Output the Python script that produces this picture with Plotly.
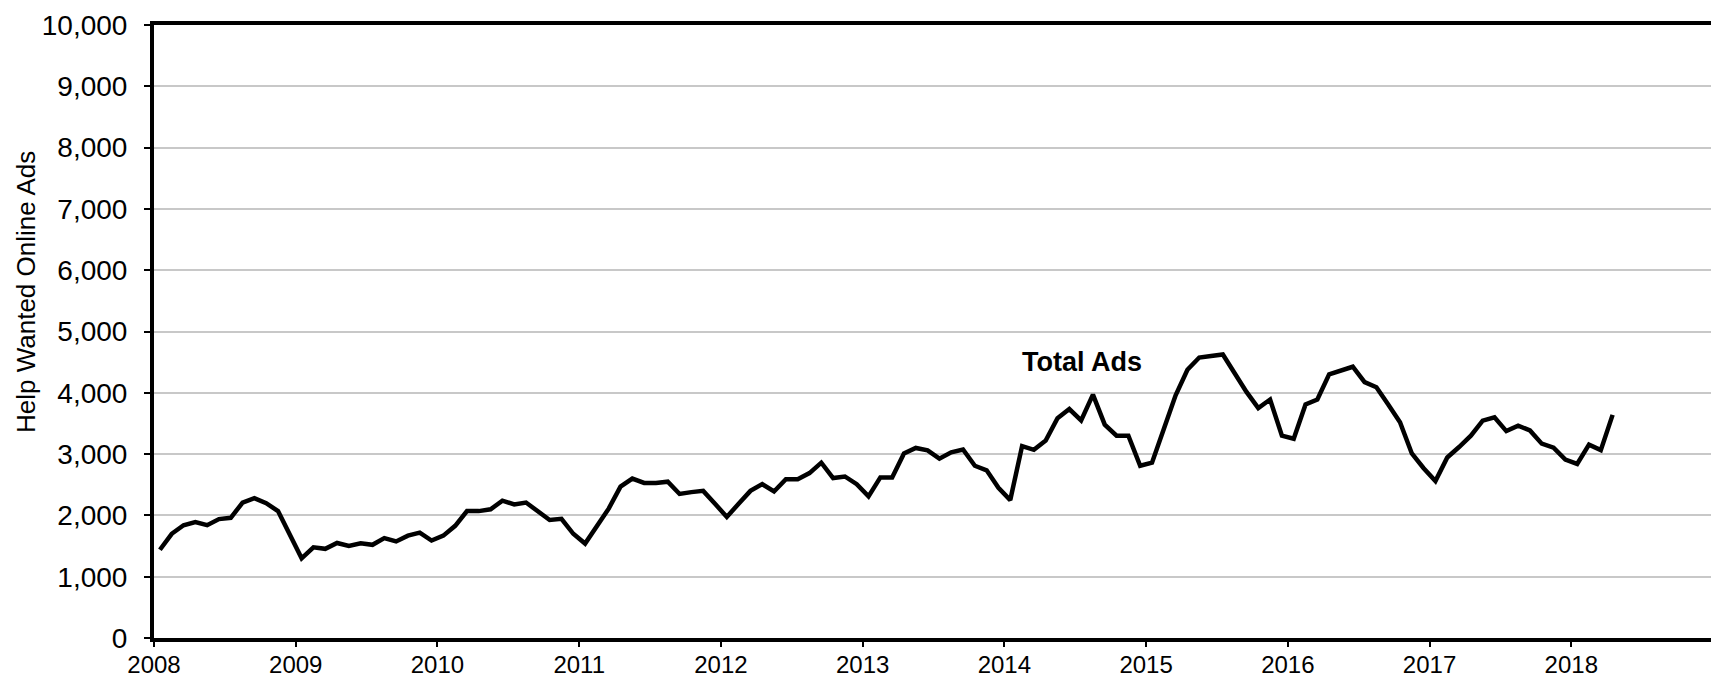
import pandas as pd
import plotly.graph_objects as go

# monthly values, Jan 2008 .. Apr 2018
ads_2008 = [1440, 1700, 1840, 1890, 1840, 1940, 1960, 2210, 2280, 2200, 2070, 1680]
ads_2009 = [1300, 1480, 1455, 1550, 1500, 1545, 1520, 1630, 1575, 1670, 1720, 1590]
ads_2010 = [1670, 1830, 2070, 2070, 2100, 2240, 2180, 2210, 2070, 1925, 1945, 1700]
ads_2011 = [1540, 1820, 2110, 2470, 2600, 2530, 2530, 2550, 2350, 2380, 2400, 2190]
ads_2012 = [1975, 2190, 2400, 2510, 2390, 2590, 2590, 2690, 2860, 2610, 2635, 2510]
ads_2013 = [2310, 2620, 2620, 3010, 3100, 3060, 2925, 3030, 3075, 2810, 2735, 2450]
ads_2014 = [2250, 3130, 3070, 3220, 3585, 3735, 3550, 3970, 3480, 3300, 3300, 2810]
ads_2015 = [2860, 3410, 3960, 4375, 4575, 4600, 4625, 4320, 4015, 3750, 3890, 3300]
ads_2016 = [3250, 3810, 3890, 4300, 4360, 4425, 4175, 4090, 3810, 3520, 3010, 2770]
ads_2017 = [2560, 2945, 3115, 3300, 3545, 3600, 3375, 3465, 3385, 3170, 3105, 2910]
ads_2018 = [2840, 3155, 3065, 3640]

years = list(range(2008, 2019))
year_labels = [str(y) for y in years]
y_ticks = list(range(0, 10001, 1000))

values = (ads_2008 + ads_2009 + ads_2010 + ads_2011 + ads_2012 + ads_2013
          + ads_2014 + ads_2015 + ads_2016 + ads_2017 + ads_2018)
dates = [2008 + (i + 0.5) / 12 for i in range(len(values))]
df = pd.DataFrame({"date": dates, "ads": values})

font_family = "Liberation Sans, Arial, sans-serif"

fig = go.Figure()
fig.add_trace(go.Scatter(
    x=df["date"], y=df["ads"], mode="lines",
    line=dict(color="black", width=4.5),
    showlegend=False, hoverinfo="skip",
))

# label on the line
fig.add_annotation(
    x=2014.55, y=4500, text="<b>Total Ads</b>", showarrow=False,
    font=dict(family=font_family, size=27, color="black"),
)
# y axis title
fig.add_annotation(
    xref="paper", yref="paper", x=-0.0825, y=0.565,
    xanchor="center", yanchor="middle",
    text="Help Wanted Online Ads", textangle=-90, showarrow=False,
    font=dict(family=font_family, size=26, color="black"),
)

# page body has an 8px margin, so the figure is a bit smaller than the window
fig.update_layout(
    width=1711, height=678,
    plot_bgcolor="white", paper_bgcolor="white",
    margin=dict(l=146, r=2, t=5, b=48),
    font=dict(family=font_family, size=25, color="black"),
    xaxis=dict(
        range=[2008, 2019],
        tickvals=years, ticktext=year_labels,
        showgrid=False, zeroline=False,
        showline=True, linecolor="black", linewidth=4, mirror=True,
        ticks="outside", ticklen=5, tickwidth=2, tickcolor="black",
        ticklabeloverflow="allow", ticklabelstandoff=-3,
        tickfont=dict(size=24),
    ),
    yaxis=dict(
        range=[0, 10000],
        tickvals=y_ticks, tickformat=",",
        showgrid=True, gridcolor="#c8c8c8", gridwidth=1.5, zeroline=False,
        showline=True, linecolor="black", linewidth=4, mirror=True,
        ticks="outside", ticklen=6, tickwidth=2, tickcolor="black",
        ticklabelstandoff=11, ticklabeloverflow="allow",
        tickfont=dict(size=28),
    ),
)

fig.write_html("out.html")
